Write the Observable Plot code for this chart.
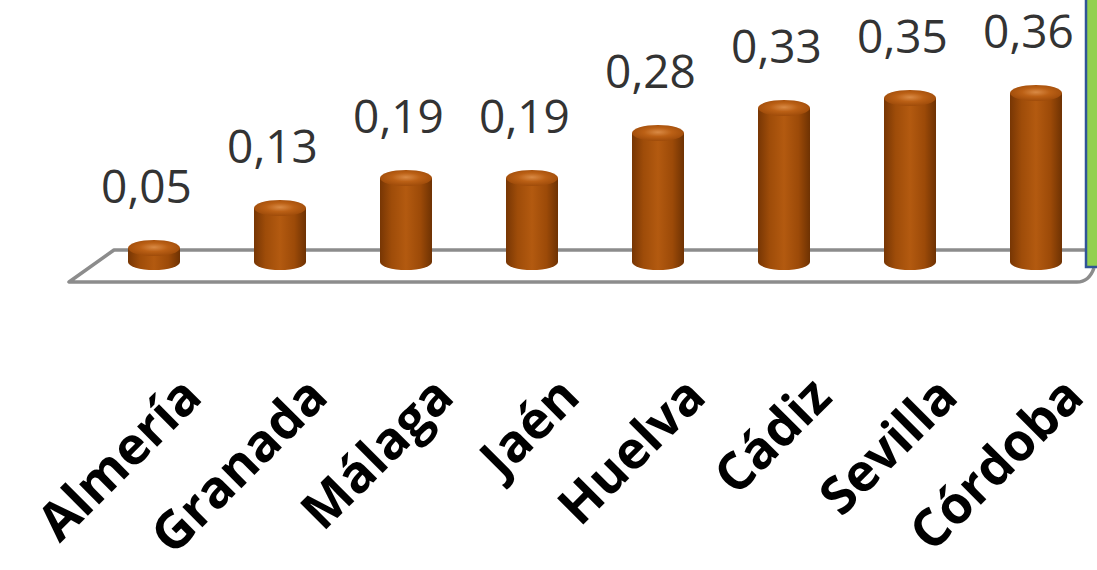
<!DOCTYPE html>
<html>
<head>
<meta charset="utf-8">
<script src="https://cdn.jsdelivr.net/npm/d3@7"></script>
<script src="https://cdn.jsdelivr.net/npm/@observablehq/plot@0.6"></script>
<style>
  html, body { margin: 0; padding: 0; background: #ffffff; }
  #chart { width: 1097px; height: 570px; overflow: hidden; }
</style>
</head>
<body>
<div id="chart"></div>
<script>
const regions = ["Almería", "Granada", "Málaga", "Jaén", "Huelva", "Cádiz", "Sevilla", "Córdoba"];
const values = [0.05, 0.13, 0.19, 0.19, 0.28, 0.33, 0.35, 0.36];
const valueLabels = ["0,05", "0,13", "0,19", "0,19", "0,28", "0,33", "0,35", "0,36"];

const data = regions.map((name, i) => ({name, value: values[i], label: valueLabels[i]}));

const cyl = {x: "name", insetLeft: 37, insetRight: 37};

const plot = Plot.plot({
  width: 1097,
  height: 570,
  margin: 0,
  x: {type: "band", domain: regions, range: [90, 1100], padding: 0, axis: null},
  y: {domain: [0, 0.36], range: [273, 93], axis: null},
  style: {background: "white", fontFamily: "'Open Sans', sans-serif", overflow: "visible"},
  marks: [
    // bottom cap of cylinder
    Plot.barY(data, {...cyl, y1: () => 0, y2: () => 0, insetTop: -8, insetBottom: -8, dy: -11, rx: 26, ry: 8, fill: "url(#cylBody)"}),
    // body
    Plot.barY(data, {...cyl, y1: () => 0, y2: "value", insetBottom: 11, fill: "url(#cylBody)"}),
    // top cap
    Plot.barY(data, {...cyl, y1: "value", y2: "value", insetTop: -8, insetBottom: -8, rx: 26, ry: 8, fill: "url(#cylTop)"}),
    // value labels
    Plot.text(data, {x: "name", y: "value", text: "label", dy: -60, dx: -8, fontSize: 46, fill: "#333333"}),
    // category labels
    Plot.text(data, {x: "name", y: () => 0, text: "name", rotate: -45, textAnchor: "end", dx: 38, dy: 114, fontSize: 52, fontWeight: 700, fill: "#000000"})
  ]
});

// gradients
plot.insertAdjacentHTML("afterbegin", `
<defs>
  <linearGradient id="cylBody" x1="0" x2="1" y1="0" y2="0">
    <stop offset="0" stop-color="#773604"/>
    <stop offset="0.22" stop-color="#9e4c09"/>
    <stop offset="0.5" stop-color="#b35a10"/>
    <stop offset="0.78" stop-color="#9c4a08"/>
    <stop offset="1" stop-color="#6e3203"/>
  </linearGradient>
  <radialGradient id="cylTop" cx="0.5" cy="0.45" r="0.6">
    <stop offset="0" stop-color="#d98a45"/>
    <stop offset="0.45" stop-color="#bb6015"/>
    <stop offset="1" stop-color="#9a4808"/>
  </radialGradient>
</defs>`);

// floor (derived from the scales)
const X = plot.scale("x"), Y = plot.scale("y");
const y0 = Y.apply(0);
const left = X.apply(regions[0]);
const right = X.apply(regions[regions.length - 1]) + X.bandwidth;
const backY = y0 - 23, frontY = y0 + 9;
const ns = "http://www.w3.org/2000/svg";
const floor = document.createElementNS(ns, "path");
floor.setAttribute("d", `M${right + 5},${backY} L${left + 23},${backY} L${left - 22},${frontY} L${right - 22},${frontY} Q${right - 10},${frontY} ${right - 5},${frontY - 14}`);
floor.setAttribute("fill", "white");
floor.setAttribute("stroke", "#8c8c8c");
floor.setAttribute("stroke-width", "3.5");
floor.setAttribute("stroke-linejoin", "round");
const firstG = plot.querySelector("g");
plot.insertBefore(floor, firstG);

// right-hand green text box edge
const box = document.createElementNS(ns, "rect");
box.setAttribute("x", right - 13);
box.setAttribute("y", -3);
box.setAttribute("width", 30);
box.setAttribute("height", y0 - 6 + 3);
box.setAttribute("fill", "#92d050");
box.setAttribute("stroke", "#2f5597");
box.setAttribute("stroke-width", "2.5");
plot.appendChild(box);

document.getElementById("chart").appendChild(plot);
</script>
</body>
</html>
